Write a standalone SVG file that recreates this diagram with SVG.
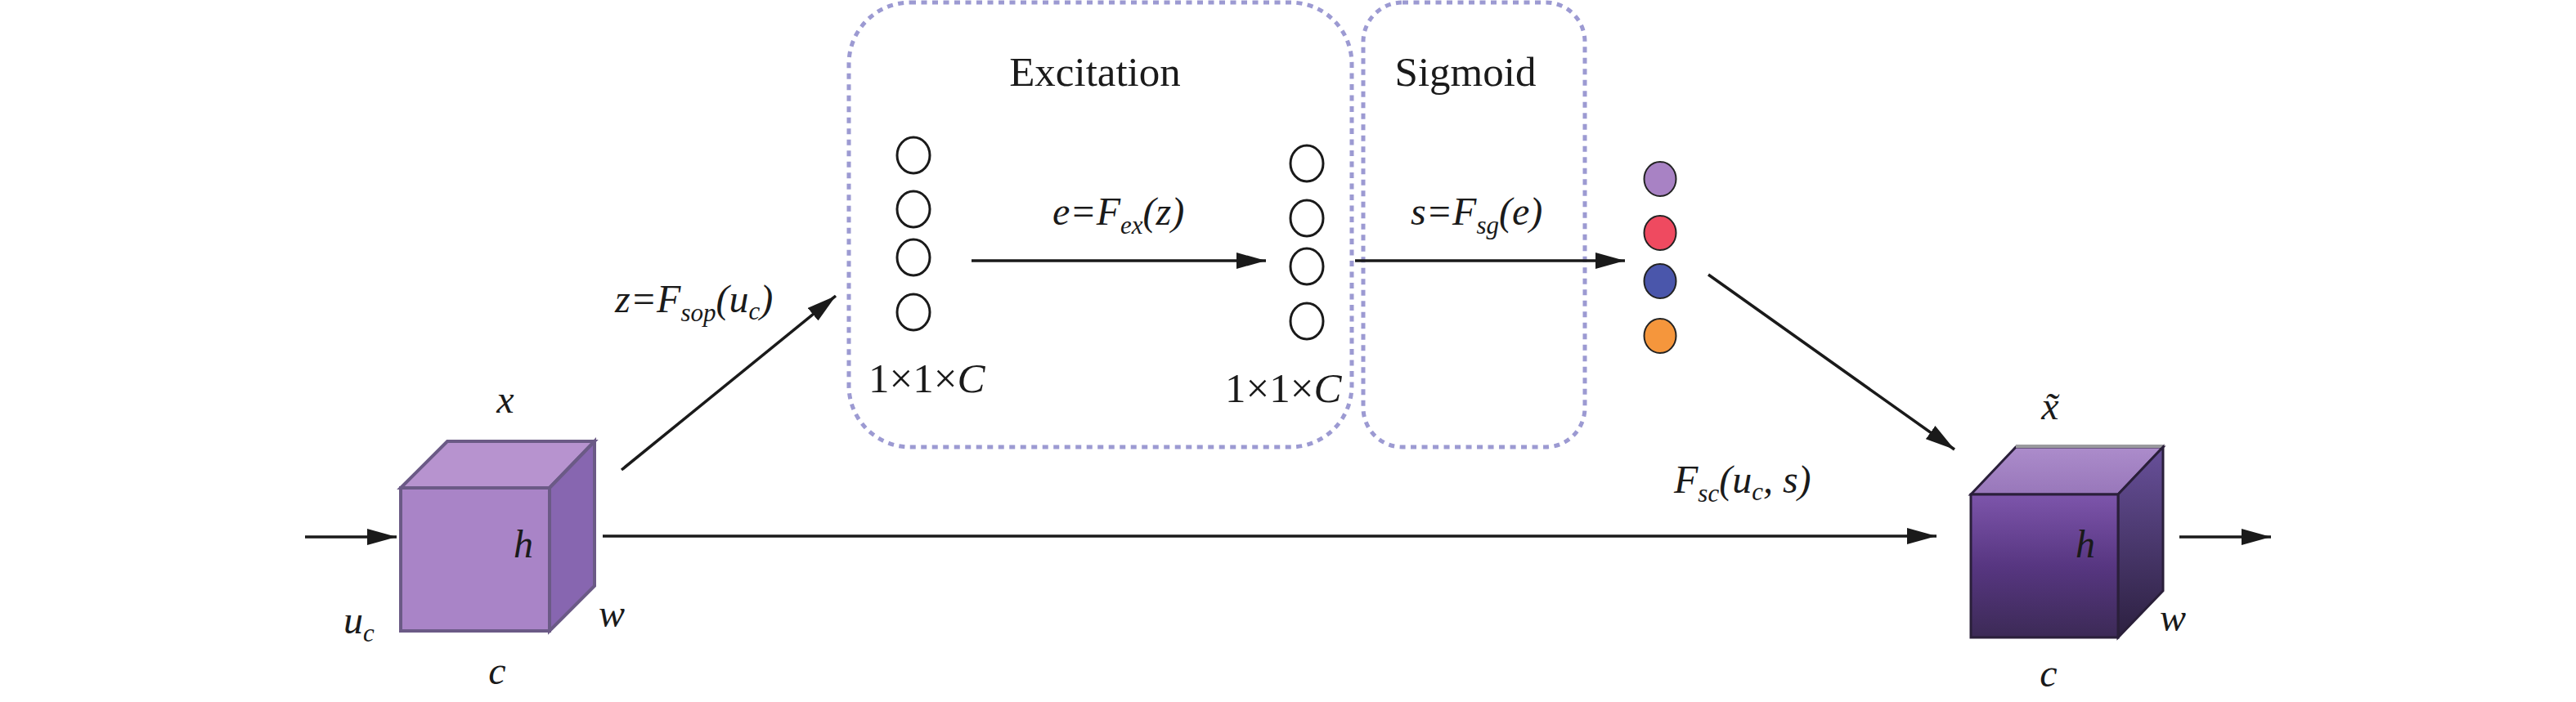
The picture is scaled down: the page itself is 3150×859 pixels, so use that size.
<svg xmlns="http://www.w3.org/2000/svg" width="3150" height="859" viewBox="0 0 3150 859">
<style>
.t{font-family:"Liberation Serif","Times New Roman",serif;fill:#1a1a1a}
.lab{font-size:51px}
.it{font-style:italic}
.eq{font-size:48px;font-style:italic}
.sub{font-size:31px}
.ln{stroke:#1a1a1a;stroke-width:3.5;fill:none}
.arr{marker-end:url(#ah)}
.box{fill:none;stroke:#9c9ad2;stroke-width:5;stroke-dasharray:7 6.5}
.oc{fill:#fff;stroke:#1a1a1a;stroke-width:3}
.cc{stroke:#222;stroke-width:2}
.edge{stroke:#6b5a86;stroke-width:4;stroke-linejoin:miter}
.edge2{stroke:#2a1f3a;stroke-width:3;stroke-linejoin:miter}
</style>
<defs>
<marker id="ah" markerUnits="userSpaceOnUse" markerWidth="36" markerHeight="20" refX="36" refY="10" orient="auto">
<path d="M0,0 L36,10 L0,20 z" fill="#1a1a1a"/>
</marker>
<linearGradient id="gF" x1="0" y1="0" x2="0" y2="1">
<stop offset="0" stop-color="#7d55ab"/>
<stop offset="0.5" stop-color="#573681"/>
<stop offset="1" stop-color="#3c2a56"/>
</linearGradient>
<linearGradient id="gT" x1="0" y1="0" x2="0" y2="1">
<stop offset="0" stop-color="#ac8ccb"/>
<stop offset="1" stop-color="#9877ba"/>
</linearGradient>
<linearGradient id="gR" x1="0" y1="0" x2="0" y2="1">
<stop offset="0" stop-color="#68509a"/>
<stop offset="1" stop-color="#2c2040"/>
</linearGradient>
</defs>

<g id="cube-in">
<polygon points="490,597 547,540 727,540 672,597" fill="#b793cf" class="edge"/>
<polygon points="672,597 727,540 727,717 672,772" fill="#8766b0" class="edge"/>
<rect x="490" y="597" width="182" height="175" fill="#a984c7" class="edge"/>
<text class="t eq" x="618" y="505" text-anchor="middle">x</text>
<text class="t eq" x="640" y="682" text-anchor="middle">h</text>
<text class="t eq" x="748" y="767" text-anchor="middle">w</text>
<text class="t eq" x="608" y="837" text-anchor="middle">c</text>
<text class="t eq" x="420" y="775">u<tspan class="sub" dy="10">c</tspan></text>
</g>

<g id="excitation">
<rect class="box" x="1038" y="3" width="615" height="544" rx="75" ry="75"/>
<text class="t lab" x="1339" y="105" text-anchor="middle">Excitation</text>
<ellipse class="oc" cx="1117" cy="190" rx="20" ry="22"/>
<ellipse class="oc" cx="1117" cy="256" rx="20" ry="22"/>
<ellipse class="oc" cx="1117" cy="315" rx="20" ry="22"/>
<ellipse class="oc" cx="1117" cy="382" rx="20" ry="22"/>
<text class="t lab" x="1062" y="480">1×1×<tspan class="it">C</tspan></text>
<ellipse class="oc" cx="1598" cy="200" rx="20" ry="22"/>
<ellipse class="oc" cx="1598" cy="267" rx="20" ry="22"/>
<ellipse class="oc" cx="1598" cy="326" rx="20" ry="22"/>
<ellipse class="oc" cx="1598" cy="393" rx="20" ry="22"/>
<text class="t lab" x="1498" y="492">1×1×<tspan class="it">C</tspan></text>
</g>

<g id="sigmoid">
<rect class="box" x="1667" y="3" width="271" height="544" rx="48" ry="48"/>
<text class="t lab" x="1792" y="105" text-anchor="middle">Sigmoid</text>
</g>

<g id="weights">
<ellipse class="cc" cx="2030" cy="219" rx="19.5" ry="21" fill="#a882c4"/>
<ellipse class="cc" cx="2030" cy="285" rx="19.5" ry="21" fill="#ef4a60"/>
<ellipse class="cc" cx="2030" cy="344" rx="19.5" ry="21" fill="#4a56ab"/>
<ellipse class="cc" cx="2030" cy="411" rx="19.5" ry="21" fill="#f5963c"/>
</g>

<g id="cube-out">
<polygon points="2410,605 2465,547 2645,547 2590,605" fill="url(#gT)" class="edge2"/>
<line x1="2465" y1="546" x2="2645" y2="546" stroke="#9a9a9e" stroke-width="4"/>
<polygon points="2590,605 2645,547 2645,723 2590,780" fill="url(#gR)" class="edge2"/>
<rect x="2410" y="605" width="180" height="175" fill="url(#gF)" class="edge2"/>
<text class="t eq" x="2507" y="513" text-anchor="middle">x̃</text>
<text class="t eq" x="2550" y="682" text-anchor="middle">h</text>
<text class="t eq" x="2657" y="772" text-anchor="middle">w</text>
<text class="t eq" x="2505" y="840" text-anchor="middle">c</text>
</g>

<g id="connectors">
<line class="ln arr" x1="373" y1="657" x2="485" y2="657"/>
<line class="ln arr" x1="737" y1="656" x2="2368" y2="656"/>
<line class="ln arr" x1="2665" y1="657" x2="2777" y2="657"/>
<line class="ln arr" x1="760" y1="575" x2="1022" y2="362"/>
<line class="ln arr" x1="1188" y1="319" x2="1548" y2="319"/>
<line class="ln arr" x1="1657" y1="319" x2="1987" y2="319"/>
<line class="ln arr" x1="2089" y1="336" x2="2390" y2="550"/>
<text class="t eq" x="752" y="382">z=F<tspan class="sub" dy="11">sop</tspan><tspan dy="-11">(u</tspan><tspan class="sub" dy="9">c</tspan><tspan dy="-9">)</tspan></text>
<text class="t eq" x="1287" y="275">e=F<tspan class="sub" dy="11">ex</tspan><tspan dy="-11">(z)</tspan></text>
<text class="t eq" x="1725" y="275">s=F<tspan class="sub" dy="11">sg</tspan><tspan dy="-11">(e)</tspan></text>
<text class="t eq" x="2047" y="603">F<tspan class="sub" dy="11">sc</tspan><tspan dy="-11">(u</tspan><tspan class="sub" dy="9">c</tspan><tspan dy="-9">, s)</tspan></text>
</g>
</svg>
